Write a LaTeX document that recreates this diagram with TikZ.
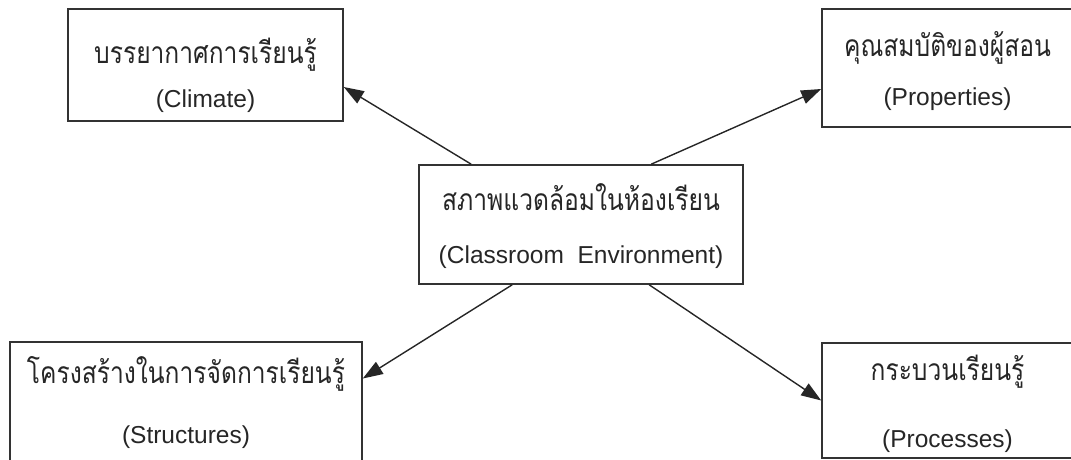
\documentclass[tikz,border=0pt]{standalone}
\usepackage{fontspec}
\setmainfont{Liberation Sans}
\newfontfamily\thaifont[Script=Thai,FakeStretch=0.82]{Loma}
\newcommand\thaitext[1]{{\thaifont\fontsize{30}{30}\selectfont #1}}
\usetikzlibrary{arrows.meta}

\begin{document}
\begin{tikzpicture}[x=1pt,y=-1pt,->,>={Triangle[length=20pt,width=14pt]},
                    line width=1.4pt,draw=black!85,text=black!85]
	  \tikzstyle{every node}=[draw=black!80,line width=1.6pt,inner sep=0pt,align=center,text depth=0pt]
	  \useasboundingbox (0,0) rectangle (1071,460);

	  \node[minimum width=275pt,minimum height=112pt,text height=84pt,font=\fontsize{24.5}{44}\selectfont]
	      (climate) at (205.5,65)   {\thaitext{บรรยากาศการเรียนรู้}\\(Climate)};
	  \node[minimum width=251pt,minimum height=118pt,text height=74pt,font=\fontsize{24.5}{48}\selectfont]
	      (props) at (947.5,68)     {\thaitext{คุณสมบัติของผู้สอน}\\(Properties)};
	  \node[minimum width=324pt,minimum height=119pt,text height=77pt,font=\fontsize{24.5}{53}\selectfont]
	      (env) at (581,224.5)      {\thaitext{สภาพแวดล้อมในห้องเรียน}\\(Classroom\ \ Environment)};
	  \node[minimum width=352pt,minimum height=119pt,text height=83pt,font=\fontsize{24.5}{60}\selectfont]
	      (struct) at (186,401.5)   {\thaitext{โครงสร้างในการจัดการเรียนรู้}\\(Structures)};
	  \node[minimum width=251pt,minimum height=115pt,text height=93pt,font=\fontsize{24.5}{67}\selectfont]
	      (procs) at (947.5,400.5)  {\thaitext{กระบวนเรียนรู้}\\(Processes)};

	  \path ([xshift=53pt]env.north west) edge ([yshift=-22pt]climate.east)
	  ([xshift=233pt]env.north west) edge ([yshift=-21pt]props.west)
	  ([xshift=94pt]env.south west) edge ([yshift=23pt]struct.east)
	  ([xshift=231pt]env.south west) edge (procs.west);
\end{tikzpicture}
\end{document}
